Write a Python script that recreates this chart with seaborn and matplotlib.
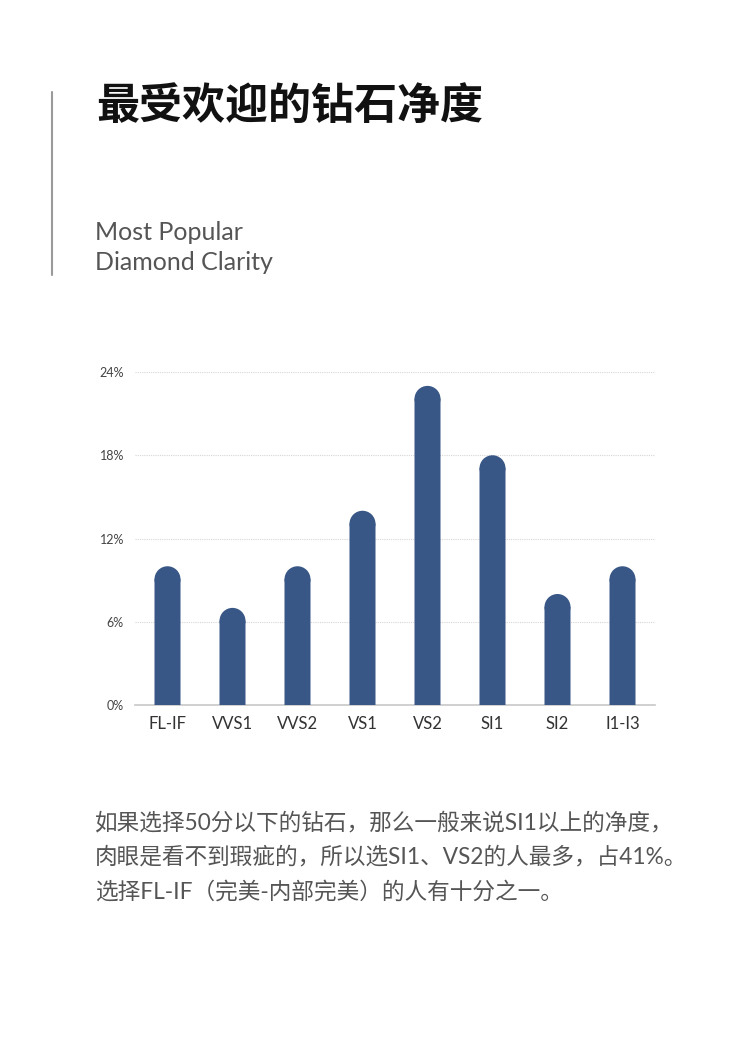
import matplotlib.pyplot as plt
import seaborn as sns
import pandas as pd
from matplotlib.patches import Ellipse

# data
clarity = ['FL-IF', 'VVS1', 'VVS2', 'VS1', 'VS2', 'SI1', 'SI2', 'I1-I3']
share = [10, 7, 10, 14, 23, 18, 8, 10]
y_ticks = [0, 6, 12, 18, 24]

title = '最受欢迎的钻石净度'
subtitle = ['Most Popular', 'Diamond Clarity']
notes = [
    '如果选择50分以下的钻石，那么一般来说SI1以上的净度，',
    '肉眼是看不到瑕疵的，所以选SI1、VS2的人最多，占41%。',
    '选择FL-IF（完美-内部完美）的人有十分之一。',
]

sns.set_style('white')
plt.rcParams['font.family'] = ['Lato', 'Noto Sans CJK SC', 'DejaVu Sans']

W, H = 756, 1040
fig = plt.figure(figsize=(W / 100, H / 100), dpi=100)
fig.patch.set_facecolor('white')

# axes box in pixels
ax_l, ax_r, ax_t, ax_b = 135, 655, 372, 705
ax = fig.add_axes([ax_l / W, 1 - ax_b / H, (ax_r - ax_l) / W, (ax_b - ax_t) / H])

df = pd.DataFrame({'clarity': clarity, 'share': share})
bar_color = '#395786'
sns.barplot(data=df, x='clarity', y='share', color=bar_color, width=0.4,
            saturation=1, linewidth=0, ax=ax, zorder=3)

ax.set_xlim(-0.5, len(clarity) - 0.5)
ax.set_ylim(0, 24)

# rounded tops: shorten each bar by its radius and add a half-ellipse cap
px_per_x = (ax_r - ax_l) / len(clarity)
px_per_y = (ax_b - ax_t) / 24
for p in list(ax.patches):
    w = p.get_width()
    h = p.get_height()
    r = (w * px_per_x / 2) / px_per_y
    p.set_height(h - r * 0.98)
    p.set_snap(False)
    cap = Ellipse((p.get_x() + w / 2, h - r), w, 2 * r,
                  facecolor=bar_color, edgecolor='none', linewidth=0, zorder=3)
    cap.set_snap(False)
    ax.add_patch(cap)

ax.set_yticks(y_ticks)
ax.set_yticklabels([f'{v}%' for v in y_ticks])
ax.yaxis.grid(True, color='#d6d6d6', linestyle=(0, (1, 1)), linewidth=0.8, zorder=0)
ax.set_xlabel('')
ax.set_ylabel('')
for s in ['top', 'right', 'left']:
    ax.spines[s].set_visible(False)
ax.spines['bottom'].set_color('#c8c8c8')
ax.spines['bottom'].set_linewidth(1.2)
ax.tick_params(axis='both', length=0)
ax.tick_params(axis='x', labelsize=12, labelcolor='#333333', pad=8)
ax.tick_params(axis='y', labelsize=9, labelcolor='#444444', pad=8)

# header
fig.text(96 / W, 1 - 106 / H, title, fontsize=31, fontweight='black',
         family=['Noto Sans CJK SC', 'DejaVu Sans'], color='#111111', va='center')
for i, line in enumerate(subtitle):
    fig.text(95 / W, 1 - (233 + i * 29) / H, line, fontsize=18,
             color='#555555', va='center')
fig.add_artist(plt.Line2D([52 / W, 52 / W], [1 - 92 / H, 1 - 275 / H],
                          color='#9a9a9a', linewidth=1.5))

# explanatory note
for i, line in enumerate(notes):
    fig.text(95 / W, 1 - (822 + i * 35) / H, line, fontsize=16.3,
             color='#555555', va='center')

fig.savefig('out.png', dpi=100, facecolor='white')
